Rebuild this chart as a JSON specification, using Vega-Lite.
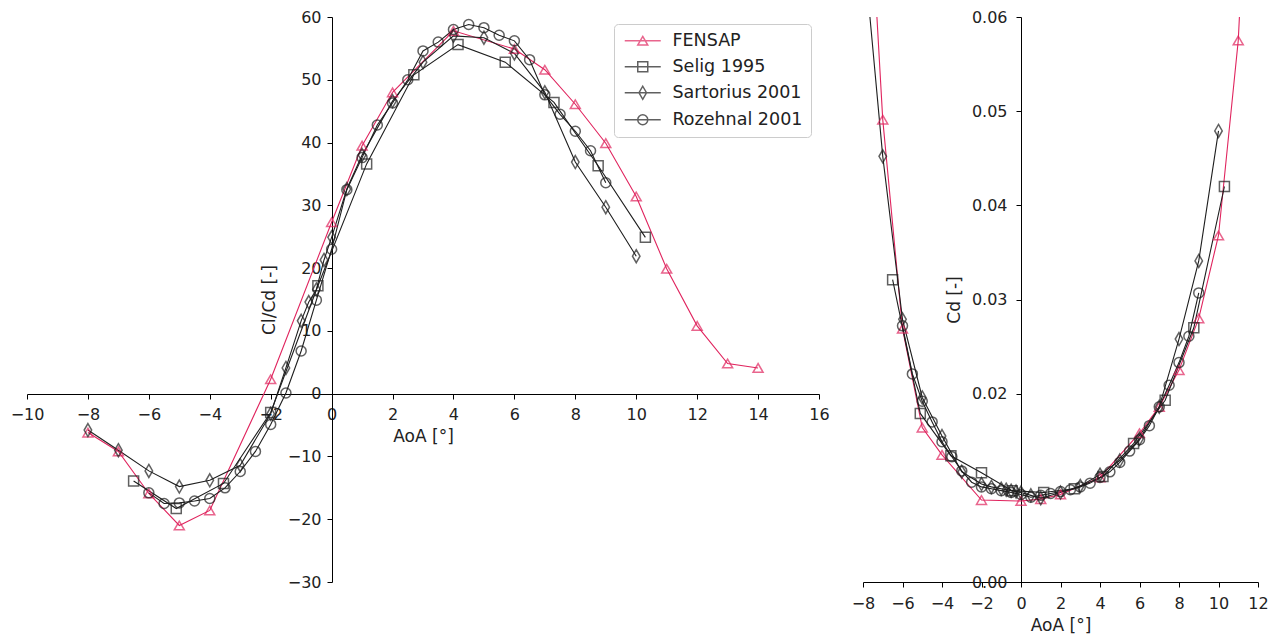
{
  "$schema": "https://vega.github.io/schema/vega-lite/v6.json",
  "background": "white",
  "padding": {"left": 10, "top": 9, "right": 5, "bottom": 5},
  "bounds": "flush",
  "spacing": 44,
  "config": {
    "view": {"stroke": null},
    "font": "DejaVu Sans",
    "axis": {
      "grid": false, "domainColor": "#000", "domainWidth": 1, "tickColor": "#000", "tickSize": 5, "tickWidth": 1,
      "labelFont": "DejaVu Sans", "labelFontSize": 16, "labelColor": "#222", "labelPadding": 5,
      "titleFont": "DejaVu Sans", "titleFontSize": 17, "titleFontWeight": "normal", "titleColor": "#222",
      "labelOverlap": false, "labelBound": false, "labelFlush": false
    }
  },
  "datasets": {
    "clcd": [
      {"series": "FENSAP", "aoa": -8, "v": -6.2}, {"series": "FENSAP", "aoa": -7, "v": -9.2}, {"series": "FENSAP", "aoa": -6, "v": -15.9}, {"series": "FENSAP", "aoa": -5, "v": -21.0}, {"series": "FENSAP", "aoa": -4, "v": -18.6}, {"series": "FENSAP", "aoa": -2, "v": 2.3}, {"series": "FENSAP", "aoa": 0, "v": 27.3}, {"series": "FENSAP", "aoa": 1, "v": 39.5}, {"series": "FENSAP", "aoa": 2, "v": 48.0}, {"series": "FENSAP", "aoa": 4, "v": 57.8}, {"series": "FENSAP", "aoa": 6, "v": 54.9}, {"series": "FENSAP", "aoa": 7, "v": 51.6}, {"series": "FENSAP", "aoa": 8, "v": 46.1}, {"series": "FENSAP", "aoa": 9, "v": 39.9}, {"series": "FENSAP", "aoa": 10, "v": 31.4}, {"series": "FENSAP", "aoa": 11, "v": 19.9}, {"series": "FENSAP", "aoa": 12, "v": 10.8}, {"series": "FENSAP", "aoa": 13, "v": 4.8}, {"series": "FENSAP", "aoa": 14, "v": 4.1},
      {"series": "Selig 1995", "aoa": -6.5, "v": -13.9}, {"series": "Selig 1995", "aoa": -5.1, "v": -18.3}, {"series": "Selig 1995", "aoa": -3.55, "v": -14.3}, {"series": "Selig 1995", "aoa": -2.0, "v": -3.0}, {"series": "Selig 1995", "aoa": -0.45, "v": 17.2}, {"series": "Selig 1995", "aoa": 1.15, "v": 36.6}, {"series": "Selig 1995", "aoa": 2.7, "v": 50.8}, {"series": "Selig 1995", "aoa": 4.15, "v": 55.6}, {"series": "Selig 1995", "aoa": 5.7, "v": 52.8}, {"series": "Selig 1995", "aoa": 7.3, "v": 46.4}, {"series": "Selig 1995", "aoa": 8.75, "v": 36.3}, {"series": "Selig 1995", "aoa": 10.3, "v": 24.9},
      {"series": "Sartorius 2001", "aoa": -8, "v": -5.8}, {"series": "Sartorius 2001", "aoa": -7, "v": -9.0}, {"series": "Sartorius 2001", "aoa": -6, "v": -12.3}, {"series": "Sartorius 2001", "aoa": -5, "v": -14.8}, {"series": "Sartorius 2001", "aoa": -4, "v": -13.8}, {"series": "Sartorius 2001", "aoa": -3, "v": -11.4}, {"series": "Sartorius 2001", "aoa": -2, "v": -3.2}, {"series": "Sartorius 2001", "aoa": -1.5, "v": 4.1}, {"series": "Sartorius 2001", "aoa": -1, "v": 11.6}, {"series": "Sartorius 2001", "aoa": -0.75, "v": 14.6}, {"series": "Sartorius 2001", "aoa": -0.5, "v": 16.6}, {"series": "Sartorius 2001", "aoa": -0.25, "v": 21.3}, {"series": "Sartorius 2001", "aoa": 0, "v": 24.9}, {"series": "Sartorius 2001", "aoa": 0.5, "v": 32.6}, {"series": "Sartorius 2001", "aoa": 1, "v": 38.0}, {"series": "Sartorius 2001", "aoa": 2, "v": 46.6}, {"series": "Sartorius 2001", "aoa": 3, "v": 52.8}, {"series": "Sartorius 2001", "aoa": 4, "v": 57.0}, {"series": "Sartorius 2001", "aoa": 5, "v": 56.7}, {"series": "Sartorius 2001", "aoa": 6, "v": 54.2}, {"series": "Sartorius 2001", "aoa": 7, "v": 48.0}, {"series": "Sartorius 2001", "aoa": 8, "v": 36.9}, {"series": "Sartorius 2001", "aoa": 9, "v": 29.7}, {"series": "Sartorius 2001", "aoa": 10, "v": 21.9},
      {"series": "Rozehnal 2001", "aoa": -6, "v": -15.8}, {"series": "Rozehnal 2001", "aoa": -5.5, "v": -17.5}, {"series": "Rozehnal 2001", "aoa": -5, "v": -17.4}, {"series": "Rozehnal 2001", "aoa": -4.5, "v": -17.1}, {"series": "Rozehnal 2001", "aoa": -4, "v": -16.7}, {"series": "Rozehnal 2001", "aoa": -3.5, "v": -15.0}, {"series": "Rozehnal 2001", "aoa": -3, "v": -12.4}, {"series": "Rozehnal 2001", "aoa": -2.5, "v": -9.2}, {"series": "Rozehnal 2001", "aoa": -2, "v": -4.9}, {"series": "Rozehnal 2001", "aoa": -1.5, "v": 0.1}, {"series": "Rozehnal 2001", "aoa": -1, "v": 6.8}, {"series": "Rozehnal 2001", "aoa": -0.5, "v": 14.9}, {"series": "Rozehnal 2001", "aoa": 0, "v": 23.0}, {"series": "Rozehnal 2001", "aoa": 0.5, "v": 32.5}, {"series": "Rozehnal 2001", "aoa": 1, "v": 37.6}, {"series": "Rozehnal 2001", "aoa": 1.5, "v": 42.8}, {"series": "Rozehnal 2001", "aoa": 2, "v": 46.3}, {"series": "Rozehnal 2001", "aoa": 2.5, "v": 50.0}, {"series": "Rozehnal 2001", "aoa": 3, "v": 54.6}, {"series": "Rozehnal 2001", "aoa": 3.5, "v": 56.0}, {"series": "Rozehnal 2001", "aoa": 4, "v": 58.0}, {"series": "Rozehnal 2001", "aoa": 4.5, "v": 58.8}, {"series": "Rozehnal 2001", "aoa": 5, "v": 58.3}, {"series": "Rozehnal 2001", "aoa": 5.5, "v": 57.1}, {"series": "Rozehnal 2001", "aoa": 6, "v": 56.2}, {"series": "Rozehnal 2001", "aoa": 6.5, "v": 53.2}, {"series": "Rozehnal 2001", "aoa": 7, "v": 47.6}, {"series": "Rozehnal 2001", "aoa": 7.5, "v": 44.5}, {"series": "Rozehnal 2001", "aoa": 8, "v": 41.8}, {"series": "Rozehnal 2001", "aoa": 8.5, "v": 38.7}, {"series": "Rozehnal 2001", "aoa": 9, "v": 33.6}
    ],
    "cd": [
      {"series": "FENSAP", "aoa": -8, "v": 0.086}, {"series": "FENSAP", "aoa": -7, "v": 0.0491}, {"series": "FENSAP", "aoa": -6, "v": 0.0269}, {"series": "FENSAP", "aoa": -5, "v": 0.0164}, {"series": "FENSAP", "aoa": -4, "v": 0.0135}, {"series": "FENSAP", "aoa": -2, "v": 0.0087}, {"series": "FENSAP", "aoa": 0, "v": 0.0086}, {"series": "FENSAP", "aoa": 1, "v": 0.0088}, {"series": "FENSAP", "aoa": 2, "v": 0.0093}, {"series": "FENSAP", "aoa": 4, "v": 0.0111}, {"series": "FENSAP", "aoa": 6, "v": 0.0158}, {"series": "FENSAP", "aoa": 7, "v": 0.0186}, {"series": "FENSAP", "aoa": 8, "v": 0.0225}, {"series": "FENSAP", "aoa": 9, "v": 0.028}, {"series": "FENSAP", "aoa": 10, "v": 0.0368}, {"series": "FENSAP", "aoa": 11, "v": 0.0575}, {"series": "FENSAP", "aoa": 12, "v": 0.1},
      {"series": "Selig 1995", "aoa": -6.5, "v": 0.0321}, {"series": "Selig 1995", "aoa": -5.1, "v": 0.0179}, {"series": "Selig 1995", "aoa": -3.55, "v": 0.0134}, {"series": "Selig 1995", "aoa": -2.0, "v": 0.0116}, {"series": "Selig 1995", "aoa": -0.45, "v": 0.0097}, {"series": "Selig 1995", "aoa": 1.15, "v": 0.0095}, {"series": "Selig 1995", "aoa": 2.7, "v": 0.0099}, {"series": "Selig 1995", "aoa": 4.15, "v": 0.0112}, {"series": "Selig 1995", "aoa": 5.7, "v": 0.0147}, {"series": "Selig 1995", "aoa": 7.3, "v": 0.0193}, {"series": "Selig 1995", "aoa": 8.75, "v": 0.027}, {"series": "Selig 1995", "aoa": 10.3, "v": 0.042},
      {"series": "Sartorius 2001", "aoa": -8, "v": 0.068}, {"series": "Sartorius 2001", "aoa": -7, "v": 0.0452}, {"series": "Sartorius 2001", "aoa": -6, "v": 0.0279}, {"series": "Sartorius 2001", "aoa": -5, "v": 0.0196}, {"series": "Sartorius 2001", "aoa": -4, "v": 0.0155}, {"series": "Sartorius 2001", "aoa": -3, "v": 0.0117}, {"series": "Sartorius 2001", "aoa": -2, "v": 0.0104}, {"series": "Sartorius 2001", "aoa": -1.5, "v": 0.0101}, {"series": "Sartorius 2001", "aoa": -1, "v": 0.0099}, {"series": "Sartorius 2001", "aoa": -0.75, "v": 0.0098}, {"series": "Sartorius 2001", "aoa": -0.5, "v": 0.0097}, {"series": "Sartorius 2001", "aoa": -0.25, "v": 0.0096}, {"series": "Sartorius 2001", "aoa": 0, "v": 0.0095}, {"series": "Sartorius 2001", "aoa": 0.5, "v": 0.0092}, {"series": "Sartorius 2001", "aoa": 1, "v": 0.0089}, {"series": "Sartorius 2001", "aoa": 2, "v": 0.0095}, {"series": "Sartorius 2001", "aoa": 3, "v": 0.0102}, {"series": "Sartorius 2001", "aoa": 4, "v": 0.0114}, {"series": "Sartorius 2001", "aoa": 5, "v": 0.0129}, {"series": "Sartorius 2001", "aoa": 6, "v": 0.0152}, {"series": "Sartorius 2001", "aoa": 7, "v": 0.0186}, {"series": "Sartorius 2001", "aoa": 8, "v": 0.0258}, {"series": "Sartorius 2001", "aoa": 9, "v": 0.0341}, {"series": "Sartorius 2001", "aoa": 10, "v": 0.0479},
      {"series": "Rozehnal 2001", "aoa": -6, "v": 0.0272}, {"series": "Rozehnal 2001", "aoa": -5.5, "v": 0.0221}, {"series": "Rozehnal 2001", "aoa": -5, "v": 0.0192}, {"series": "Rozehnal 2001", "aoa": -4.5, "v": 0.017}, {"series": "Rozehnal 2001", "aoa": -4, "v": 0.0149}, {"series": "Rozehnal 2001", "aoa": -3.5, "v": 0.0133}, {"series": "Rozehnal 2001", "aoa": -3, "v": 0.0118}, {"series": "Rozehnal 2001", "aoa": -2.5, "v": 0.0106}, {"series": "Rozehnal 2001", "aoa": -2, "v": 0.0101}, {"series": "Rozehnal 2001", "aoa": -1.5, "v": 0.0099}, {"series": "Rozehnal 2001", "aoa": -1, "v": 0.0097}, {"series": "Rozehnal 2001", "aoa": -0.5, "v": 0.0095}, {"series": "Rozehnal 2001", "aoa": 0, "v": 0.0093}, {"series": "Rozehnal 2001", "aoa": 0.5, "v": 0.009}, {"series": "Rozehnal 2001", "aoa": 1, "v": 0.0092}, {"series": "Rozehnal 2001", "aoa": 1.5, "v": 0.0094}, {"series": "Rozehnal 2001", "aoa": 2, "v": 0.0096}, {"series": "Rozehnal 2001", "aoa": 2.5, "v": 0.0098}, {"series": "Rozehnal 2001", "aoa": 3, "v": 0.0101}, {"series": "Rozehnal 2001", "aoa": 3.5, "v": 0.0105}, {"series": "Rozehnal 2001", "aoa": 4, "v": 0.0111}, {"series": "Rozehnal 2001", "aoa": 4.5, "v": 0.0117}, {"series": "Rozehnal 2001", "aoa": 5, "v": 0.0127}, {"series": "Rozehnal 2001", "aoa": 5.5, "v": 0.0139}, {"series": "Rozehnal 2001", "aoa": 6, "v": 0.0151}, {"series": "Rozehnal 2001", "aoa": 6.5, "v": 0.0166}, {"series": "Rozehnal 2001", "aoa": 7, "v": 0.0186}, {"series": "Rozehnal 2001", "aoa": 7.5, "v": 0.0209}, {"series": "Rozehnal 2001", "aoa": 8, "v": 0.0233}, {"series": "Rozehnal 2001", "aoa": 8.5, "v": 0.0261}, {"series": "Rozehnal 2001", "aoa": 9, "v": 0.0307}
    ]
  },
  "resolve": {"scale": {"shape": "independent", "stroke": "independent"}, "legend": {"shape": "independent", "stroke": "independent"}},
  "hconcat": [
    {
      "width": 792, "height": 565,
      "data": {"name": "clcd"},
      "encoding": {
        "x": {"field": "aoa", "type": "quantitative", "scale": {"domain": [-10, 16], "nice": false, "zero": false},
              "axis": {"values": [-10, -8, -6, -4, -2, 0, 2, 4, 6, 8, 10, 12, 14, 16], "offset": -188, "title": "AoA [°]", "labelPadding": 7, "titlePadding": 6}},
        "y": {"field": "v", "type": "quantitative", "scale": {"domain": [-30, 60], "nice": false, "zero": false},
              "axis": {"values": [-30, -20, -10, 0, 10, 20, 30, 40, 50, 60], "offset": -305, "title": "Cl/Cd [-]", "labelPadding": 6, "titlePadding": 9}}
      },
      "resolve": {"scale": {"shape": "independent", "stroke": "independent"}, "legend": {"shape": "independent", "stroke": "independent"}},
      "layer": [
        {"transform": [{"filter": "datum.series === 'FENSAP'"}],
         "mark": {"type": "line", "strokeWidth": 1.1, "clip": true},
         "encoding": {"stroke": {"field": "series", "type": "nominal", "scale": {"domain": ["FENSAP", "Selig 1995", "Sartorius 2001", "Rozehnal 2001"], "range": ["#e0245e", "#1e1e1e", "#1e1e1e", "#1e1e1e"]}, "legend": null}}},
        {"transform": [{"filter": "datum.series !== 'FENSAP'"}],
         "mark": {"type": "line", "strokeWidth": 1.1, "clip": true},
         "encoding": {"stroke": {"field": "series", "type": "nominal", "scale": {"domain": ["FENSAP", "Selig 1995", "Sartorius 2001", "Rozehnal 2001"], "range": ["#e0245e", "#1e1e1e", "#1e1e1e", "#1e1e1e"]}, "legend": null}}},
        {"mark": {"type": "point", "filled": false, "size": 100, "strokeWidth": 1.5, "clip": true},
         "encoding": {
           "stroke": {"field": "series", "type": "nominal", "scale": {"domain": ["FENSAP", "Selig 1995", "Sartorius 2001", "Rozehnal 2001"], "range": ["#e0245e", "#1e1e1e", "#1e1e1e", "#1e1e1e"]}, "legend": null},
           "shape": {"field": "series", "type": "nominal", "scale": {"domain": ["FENSAP", "Selig 1995", "Sartorius 2001", "Rozehnal 2001"], "range": ["triangle-up", "square", "M0,-1.3L0.75,0L0,1.3L-0.75,0Z", "circle"]}, "legend": null}
         }},
        {"transform": [{"filter": "false"}],
         "mark": {"type": "point", "filled": false, "size": 100, "strokeWidth": 1.5},
         "encoding": {
           "stroke": {"field": "series", "type": "nominal", "scale": {"domain": ["FENSAP", "Selig 1995", "Sartorius 2001", "Rozehnal 2001"], "range": ["#e0245e", "#1e1e1e", "#1e1e1e", "#1e1e1e"]},
                      "legend": {"orient": "none", "legendX": 587, "legendY": 7, "title": null}},
           "shape": {"field": "series", "type": "nominal",
                     "scale": {"domain": ["FENSAP", "Selig 1995", "Sartorius 2001", "Rozehnal 2001"],
                               "range": ["M-3.6,0H3.6M0,-0.87L1,0.87L-1,0.87Z", "M-3.6,0H3.6M-1,-1H1V1H-1Z", "M-3.6,0H3.6M0,-1.3L0.75,0L0,1.3L-0.75,0Z", "M-3.6,0H3.6M-1,0A1,1,0,1,0,1,0A1,1,0,1,0,-1,0Z"]},
                     "legend": {"orient": "none", "legendX": 587, "legendY": 7, "title": null, "direction": "vertical",
                                "fillColor": "white", "strokeColor": "#cccccc", "cornerRadius": 4, "padding": 8,
                                "labelFont": "DejaVu Sans", "labelFontSize": 17.5, "labelColor": "#222",
                                "symbolSize": 100, "symbolStrokeWidth": 1.5, "symbolOffset": 12, "labelOffset": 21, "rowPadding": 7}}
         }}
      ]
    },
    {
      "width": 395, "height": 565,
      "data": {"name": "cd"},
      "encoding": {
        "x": {"field": "aoa", "type": "quantitative", "scale": {"domain": [-8, 12], "nice": false, "zero": false},
              "axis": {"values": [-8, -6, -4, -2, 0, 2, 4, 6, 8, 10, 12], "title": "AoA [°]", "labelPadding": 8, "titlePadding": 6}},
        "y": {"field": "v", "type": "quantitative", "scale": {"domain": [0, 0.06], "nice": false, "zero": false},
              "axis": {"values": [0, 0.02, 0.03, 0.04, 0.05, 0.06], "format": ".2f", "offset": -158, "title": "Cd [-]", "labelPadding": 9, "titlePadding": 8}}
      },
      "layer": [
        {"transform": [{"filter": "datum.series === 'FENSAP'"}],
         "mark": {"type": "line", "strokeWidth": 1.1, "clip": true},
         "encoding": {"stroke": {"field": "series", "type": "nominal", "scale": {"domain": ["FENSAP", "Selig 1995", "Sartorius 2001", "Rozehnal 2001"], "range": ["#e0245e", "#1e1e1e", "#1e1e1e", "#1e1e1e"]}, "legend": null}}},
        {"transform": [{"filter": "datum.series !== 'FENSAP'"}],
         "mark": {"type": "line", "strokeWidth": 1.1, "clip": true},
         "encoding": {"stroke": {"field": "series", "type": "nominal", "scale": {"domain": ["FENSAP", "Selig 1995", "Sartorius 2001", "Rozehnal 2001"], "range": ["#e0245e", "#1e1e1e", "#1e1e1e", "#1e1e1e"]}, "legend": null}}},
        {"mark": {"type": "point", "filled": false, "size": 100, "strokeWidth": 1.5, "clip": true},
         "encoding": {
           "stroke": {"field": "series", "type": "nominal", "scale": {"domain": ["FENSAP", "Selig 1995", "Sartorius 2001", "Rozehnal 2001"], "range": ["#e0245e", "#1e1e1e", "#1e1e1e", "#1e1e1e"]}, "legend": null},
           "shape": {"field": "series", "type": "nominal", "scale": {"domain": ["FENSAP", "Selig 1995", "Sartorius 2001", "Rozehnal 2001"], "range": ["triangle-up", "square", "M0,-1.3L0.75,0L0,1.3L-0.75,0Z", "circle"]}, "legend": null}
         }}
      ]
    }
  ]
}
